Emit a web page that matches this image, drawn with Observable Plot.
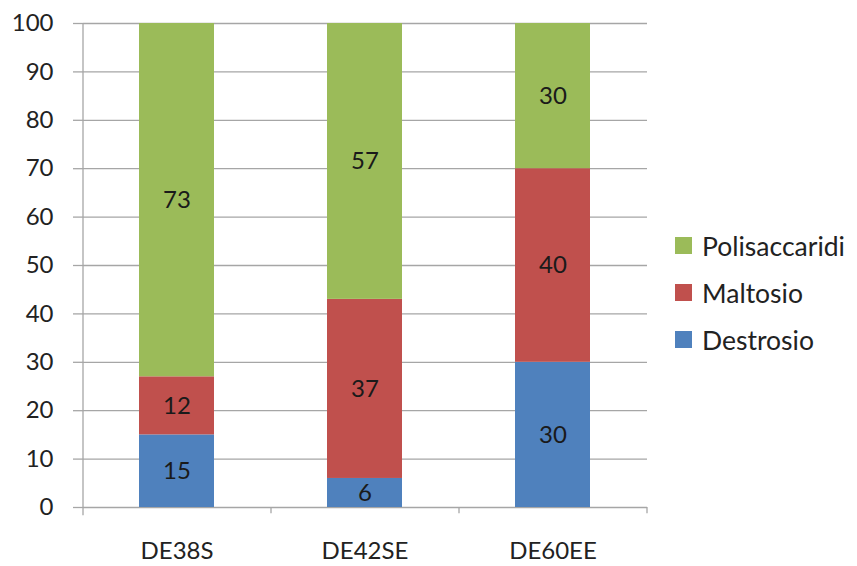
<!DOCTYPE html>
<html>
<head>
<meta charset="utf-8">
<script src="https://cdn.jsdelivr.net/npm/d3@7"></script>
<script src="https://cdn.jsdelivr.net/npm/@observablehq/plot@0.6"></script>
<style>
  html, body { margin: 0; padding: 0; background: #fff; }
  #wrap { position: relative; width: 857px; height: 566px; font-family: Lato, "Open Sans", sans-serif; }
  #legend { position: absolute; left: 675px; top: 222px; font-size: 26.5px; color: #222; }
  .item { display: flex; align-items: center; height: 47px; }
  .sw { width: 17px; height: 17px; margin-right: 10px; }
</style>
</head>
<body>
<div id="wrap"></div>
<script>
const categories = ["DE38S", "DE42SE", "DE60EE"];
const series = ["Destrosio", "Maltosio", "Polisaccaridi"];
const destrosio = [15, 6, 30];
const maltosio = [12, 37, 40];
const polisaccaridi = [73, 57, 30];
const colors = ["#4F81BD", "#C0504D", "#9BBB59"];
const yTicks = [0, 10, 20, 30, 40, 50, 60, 70, 80, 90, 100];

const values = [destrosio, maltosio, polisaccaridi];
const data = [];
series.forEach((s, si) => categories.forEach((c, ci) => data.push({cat: c, series: s, value: values[si][ci]})));

const W = 857, H = 566, ML = 83, MR = 210, MT = 23, MB = 59;
const step = (W - ML - MR) / categories.length;
const boundaries = categories.map((c, i) => ({cat: c, dx: -step / 2, y1: i === 0 ? -1.7 : -1.3}))
  .concat([{cat: categories[categories.length - 1], dx: step / 2, y1: -1.3}]);

const chart = Plot.plot({
  width: W, height: H,
  marginLeft: ML, marginRight: MR, marginTop: MT, marginBottom: MB,
  style: {fontFamily: "Lato, 'Open Sans', sans-serif", fontSize: "24px", color: "#222", background: "#fff"},
  x: {domain: categories, paddingInner: 0.6, paddingOuter: 0.3, label: null},
  y: {domain: [0, 100], label: null},
  color: {domain: series, range: colors},
  marks: [
    Plot.ruleY(yTicks, {stroke: "#a6a6a6", strokeWidth: 1.3}),
    Plot.axisY({ticks: yTicks, tickSize: 10, tickPadding: 20, stroke: "#a6a6a6", strokeWidth: 1.3, fill: "#222", fontSize: 24, label: null}),
    Plot.axisX({tickSize: 0, tickPadding: 34, fill: "#222", fontSize: 24, label: null}),
    Plot.barY(data, Plot.stackY({x: "cat", y: "value", fill: "series", order: series})),
    Plot.text(data, Plot.stackY({x: "cat", y: "value", z: "series", order: series, text: d => String(d.value), fill: "#1a1a1a", fontSize: 24})),
    ...boundaries.map(b => Plot.ruleX([b], {x: "cat", y1: "y1", y2: 0, dx: b.dx, stroke: "#a6a6a6", strokeWidth: 1.3})),
    Plot.ruleX([categories[0]], {x: d => d, y1: 0, y2: 100, dx: -step / 2, stroke: "#a6a6a6", strokeWidth: 1.3})
  ]
});

const wrap = document.getElementById("wrap");
wrap.appendChild(chart);
const legend = document.createElement("div");
legend.id = "legend";
[2, 1, 0].forEach(i => {
  const it = document.createElement("div");
  it.className = "item";
  const sw = document.createElement("div");
  sw.className = "sw";
  sw.style.background = colors[i];
  const t = document.createElement("span");
  t.textContent = series[i];
  it.appendChild(sw); it.appendChild(t);
  legend.appendChild(it);
});
wrap.appendChild(legend);
</script>
</body>
</html>
